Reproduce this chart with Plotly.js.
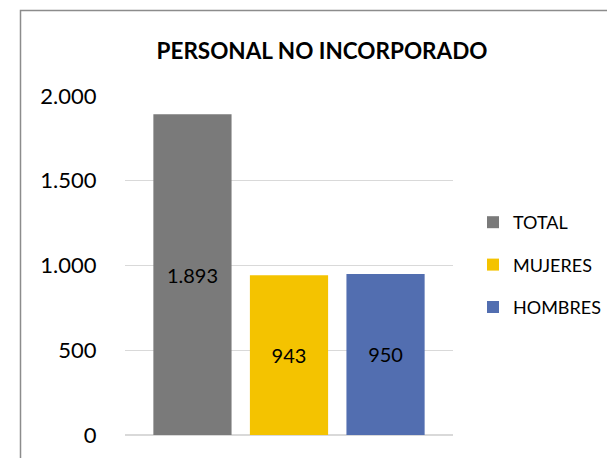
<!DOCTYPE html>
<html>
<head>
<meta charset="utf-8">
<script src="https://cdn.plot.ly/plotly-3.0.1.min.js"></script>
<style>
  html, body { margin: 0; padding: 0; background: #ffffff; overflow: hidden; }
  #chart { width: 607px; height: 458px; }
</style>
</head>
<body>
<div id="chart"></div>
<script>
const chartTitle = 'PERSONAL NO INCORPORADO';
const category = [''];
const seriesNames = ['TOTAL', 'MUJERES', 'HOMBRES'];
const seriesValues = [1893, 943, 950];
const seriesColors = ['#7a7a7a', '#f4c300', '#526eb0'];
const yTickValues = [0, 500, 1000, 1500, 2000];

const FONT = 'Lato, "Open Sans", sans-serif';

const traces = seriesNames.map((name, i) => ({
  type: 'bar',
  name: name,
  x: category,
  y: [seriesValues[i]],
  legendgroup: 'g' + i,
  marker: { color: seriesColors[i], line: { width: 0 } },
  texttemplate: '%{y:,}',
  textposition: 'inside',
  insidetextanchor: 'middle',
  textangle: 0,
  textfont: { family: FONT, size: 20, color: '#000000' },
  hoverinfo: 'none'
}));

const L = 125, R = 154, T = 96, B = 23;
const pw = 607 - L - R, ph = 458 - T - B;

const layout = {
  width: 607,
  height: 458,
  separators: ',.',
  margin: { l: L, r: R, t: T, b: B, pad: 0, autoexpand: false },
  paper_bgcolor: '#ffffff',
  plot_bgcolor: '#ffffff',
  font: { family: FONT, color: '#000000' },
  title: {
    text: '<b>' + chartTitle + '</b>',
    font: { family: FONT, size: 22.5, color: '#000000' },
    xref: 'container', yref: 'container',
    x: 322 / 607, xanchor: 'center',
    y: 1 - 51 / 458, yanchor: 'middle'
  },
  barmode: 'group',
  bargap: 0.117,
  bargroupgap: 0.19,
  xaxis: {
    showticklabels: false,
    showgrid: false,
    zeroline: false,
    showline: false,
    ticks: '',
    automargin: false
  },
  yaxis: {
    range: [0, 2000],
    tickvals: yTickValues,
    tickformat: ',',
    tickfont: { family: FONT, size: 22, color: '#000000' },
    ticks: 'outside',
    ticklen: 23,
    tickcolor: 'rgba(0,0,0,0)',
    showgrid: true,
    gridcolor: '#d9d9d9',
    gridwidth: 1,
    zeroline: true,
    zerolinecolor: '#d9d9d9',
    zerolinewidth: 2,
    showline: false,
    automargin: false
  },
  showlegend: true,
  legend: {
    x: (473 - L) / pw, xanchor: 'left',
    y: (435 - 265) / ph, yanchor: 'middle',
    font: { family: FONT, size: 18, color: '#000000' },
    itemwidth: 30,
    traceorder: 'grouped',
    tracegroupgap: 16,
    bgcolor: 'rgba(0,0,0,0)'
  },
  shapes: [{
    type: 'rect',
    xref: 'paper', yref: 'paper',
    x0: (20.5 - L) / pw, x1: 2,
    y0: -1, y1: (435 - 10.5) / ph,
    line: { color: '#8c8c8c', width: 1.5 },
    fillcolor: 'rgba(0,0,0,0)',
    layer: 'below'
  }]
};

Plotly.newPlot('chart', traces, layout, { staticPlot: true, displayModeBar: false });
</script>
</body>
</html>
